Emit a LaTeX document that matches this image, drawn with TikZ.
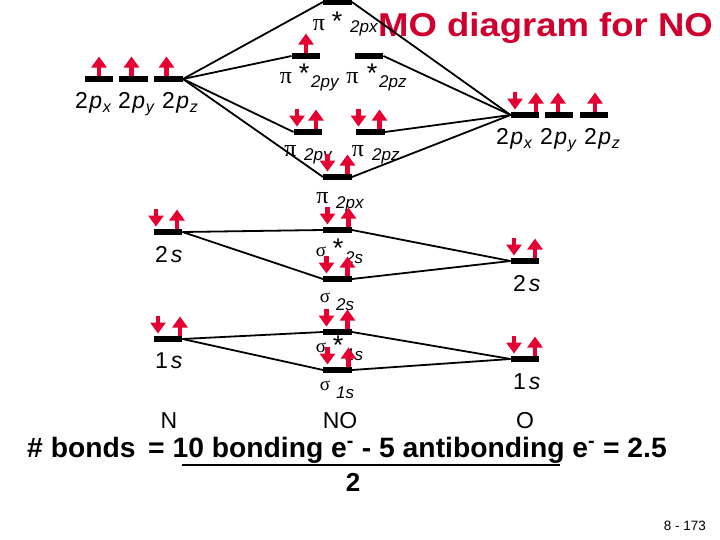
\documentclass[tikz,border=0pt]{standalone}
\usepackage{fontspec}
\setmainfont{Liberation Sans}
\newfontfamily\greekfont{Liberation Serif}
\usetikzlibrary{arrows.meta}
\definecolor{spinred}{RGB}{230,0,50}
\tikzset{every node/.style={inner sep=0pt}}
\tikzset{lvl/.style={rectangle,fill=black,minimum width=28.5pt,minimum height=6.5pt}}
\tikzset{link/.style={line width=1.8pt,black}}
\tikzset{spinup/.style={spinred,line width=4.5pt,-{Triangle[width=15pt,length=11pt]}}}
\tikzset{spindown/.style={spinred,line width=4.5pt,-{Triangle[width=15pt,length=11pt]}}}
\tikzset{orb/.style={anchor=base west,font=\fontsize{23}{23}\selectfont}}
\tikzset{atom/.style={font=\fontsize{23}{23}\selectfont}}
\tikzset{pisym/.style={font=\greekfont\fontsize{24}{24}\selectfont}}
\tikzset{sigsym/.style={font=\greekfont\fontsize{19}{19}\selectfont}}
\tikzset{aster/.style={anchor=north,font=\fontsize{27}{27}\selectfont}}
\tikzset{subs/.style={anchor=base west,font=\itshape\fontsize{17}{17}\selectfont}}
\newcommand{\plab}[1]{2\hspace{1.5pt}{\itshape p\hspace{0.5pt}\textsubscript{#1}}}
\newcommand{\slab}[1]{#1\hspace{3pt}{\itshape s}}

\begin{document}
\begin{tikzpicture}[x=1pt,y=-1pt]
      \useasboundingbox (0,0) rectangle (720,540);
      % title
      \node[anchor=base west,text=spinred!90!black,font=\bfseries\fontsize{33}{33}\selectfont] (title) at (378,37) {\scalebox{1.106}[1]{MO diagram for NO}};
      % levels
      \node[lvl] (Npx) at (99,79) {};
      \node[lvl] (Npy) at (133.5,79) {};
      \node[lvl] (Npz) at (168.5,79) {};
      \node[lvl] (pisx) at (337.5,2) {};
      \node[lvl] (pisy) at (306,56) {};
      \node[lvl] (pisz) at (369,56) {};
      \node[lvl] (piy) at (308,132) {};
      \node[lvl] (piz) at (370.5,132) {};
      \node[lvl] (pix) at (337.5,177) {};
      \node[lvl] (Opx) at (525,115) {};
      \node[lvl] (Opy) at (559,115) {};
      \node[lvl] (Opz) at (594,115) {};
      \node[lvl] (Ns2) at (168,232) {};
      \node[lvl] (sgs2) at (337.5,230) {};
      \node[lvl] (sg2) at (337.5,279) {};
      \node[lvl] (Os2) at (525,261) {};
      \node[lvl] (Ns1) at (168,339) {};
      \node[lvl] (sgs1) at (337.5,332) {};
      \node[lvl] (sg1) at (337.5,370) {};
      \node[lvl] (Os1) at (525,359) {};
      % orbital labels
      \node[orb] (lNpx) at (75,109) {\plab{x}};
      \node[orb] (lNpy) at (118,109) {\plab{y}};
      \node[orb] (lNpz) at (162,109) {\plab{z}};
      \node[orb] (lOpx) at (496,145) {\plab{x}};
      \node[orb] (lOpy) at (540,145) {\plab{y}};
      \node[orb] (lOpz) at (584,145) {\plab{z}};
      \node[orb] (lNs2) at (155,262) {\slab{2}};
      \node[orb] (lOs2) at (513,291) {\slab{2}};
      \node[orb] (lNs1) at (155,368) {\slab{1}};
      \node[orb] (lOs1) at (513,389) {\slab{1}};
      % MO labels
      \node[pisym] (ap) at (319,25) {π};
      \node[aster] (as) at (337,12) {*};
      \node[subs] (ab) at (350,33) {2px};
      \node[pisym] (bp) at (286,78) {π};
      \node[aster] (bs) at (304,64) {*};
      \node[subs] (bb) at (311,88) {2py};
      \node[pisym] (cp) at (352.5,78) {π};
      \node[aster] (cs) at (372,64) {*};
      \node[subs] (cb) at (379,88) {2pz};
      \node[pisym] (dp) at (290.5,151) {π};
      \node[subs] (db) at (304,161) {2py};
      \node[pisym] (ep) at (358,151) {π};
      \node[subs] (eb) at (372,161) {2pz};
      \node[pisym] (fp) at (322.5,198) {π};
      \node[subs] (fb) at (336,208) {2px};
      \node[sigsym] (gp) at (321,252) {σ};
      \node[aster] (gs) at (338,239) {*};
      \node[subs] (gb) at (345,263) {2s};
      \node[sigsym] (hp) at (325,298) {σ};
      \node[subs] (hb) at (336,310) {2s};
      \node[sigsym] (ip) at (321,348) {σ};
      \node[aster] (is) at (338,336) {*};
      \node[subs] (ib) at (345,360) {1s};
      \node[sigsym] (jp) at (325,386) {σ};
      \node[subs] (jb) at (336,398) {1s};
      % connectors
      \draw[link] (Npz.east) -- (pisx.west);
      \draw[link] (Npz.east) -- (pisy.west);
      \draw[link] (Npz.east) -- (piy.west);
      \draw[link] (Npz.east) -- (pix.west);
      \draw[link] (pisx.east) -- (Opx.west);
      \draw[link] (pisz.east) -- (Opx.west);
      \draw[link] (piz.east) -- (Opx.west);
      \draw[link] (pix.east) -- (Opx.west);
      \draw[link] (Ns2.east) -- (sgs2.west);
      \draw[link] (Ns2.east) -- (sg2.west);
      \draw[link] (sgs2.east) -- (Os2.west);
      \draw[link] (sg2.east) -- (Os2.west);
      \draw[link] (Ns1.east) -- (sgs1.west);
      \draw[link] (Ns1.east) -- (sg1.west);
      \draw[link] (sgs1.east) -- (Os1.west);
      \draw[link] (sg1.east) -- (Os1.west);
      % electrons
      \draw[spinup] ([xshift=0pt]Npx.north) -- ++(0,-19);
      \draw[spinup] ([xshift=-2pt]Npy.north) -- ++(0,-19);
      \draw[spinup] ([xshift=-2pt]Npz.north) -- ++(0,-19);
      \draw[spinup] ([xshift=0pt]pisy.north) -- ++(0,-19);
      \draw[spindown] ([xshift=-11pt]piy.north) ++(0,-20) -- ++(0,18);
      \draw[spinup] ([xshift=8pt]piy.north) -- ++(0,-19);
      \draw[spindown] ([xshift=-12pt]piz.north) ++(0,-20) -- ++(0,18);
      \draw[spinup] ([xshift=9pt]piz.north) -- ++(0,-19);
      \draw[spindown] ([xshift=-10pt]pix.north) ++(0,-20) -- ++(0,18);
      \draw[spinup] ([xshift=10pt]pix.north) -- ++(0,-19);
      \draw[spindown] ([xshift=-10pt]Opx.north) ++(0,-20) -- ++(0,18);
      \draw[spinup] ([xshift=11pt]Opx.north) -- ++(0,-19);
      \draw[spinup] ([xshift=-1pt]Opy.north) -- ++(0,-19);
      \draw[spinup] ([xshift=1pt]Opz.north) -- ++(0,-19);
      \draw[spindown] ([xshift=-12pt]Ns2.north) ++(0,-20) -- ++(0,18);
      \draw[spinup] ([xshift=9pt]Ns2.north) -- ++(0,-19);
      \draw[spindown] ([xshift=-10pt]sgs2.north) ++(0,-20) -- ++(0,18);
      \draw[spinup] ([xshift=11pt]sgs2.north) -- ++(0,-19);
      \draw[spindown] ([xshift=-11pt]sg2.north) ++(0,-20) -- ++(0,18);
      \draw[spinup] ([xshift=10pt]sg2.north) -- ++(0,-19);
      \draw[spindown] ([xshift=-11pt]Os2.north) ++(0,-20) -- ++(0,18);
      \draw[spinup] ([xshift=10pt]Os2.north) -- ++(0,-19);
      \draw[spindown] ([xshift=-10pt]Ns1.north) ++(0,-20) -- ++(0,18);
      \draw[spinup] ([xshift=12pt]Ns1.north) -- ++(0,-19);
      \draw[spindown] ([xshift=-11pt]sgs1.north) ++(0,-20) -- ++(0,18);
      \draw[spinup] ([xshift=10pt]sgs1.north) -- ++(0,-19);
      \draw[spindown] ([xshift=-10pt]sg1.north) ++(0,-20) -- ++(0,18);
      \draw[spinup] ([xshift=11pt]sg1.north) -- ++(0,-19);
      \draw[spindown] ([xshift=-11pt]Os1.north) ++(0,-20) -- ++(0,18);
      \draw[spinup] ([xshift=10pt]Os1.north) -- ++(0,-19);
      % bottom text
      \node[atom] (atomN) at (169,421) {N};
      \node[atom] (atomNO) at (340,421) {NO};
      \node[atom] (atomO) at (525,421) {O};
      \node[anchor=base west,font=\bfseries\fontsize{28}{28}\selectfont] (bonds) at (27,457) {\scalebox{1.01}[1]{\# bonds\, = 10 bonding e\textsuperscript{-} - 5 antibonding e\textsuperscript{-} = 2.5}};
      \coordinate (barl) at (182,465);
      \coordinate (barr) at (560,465);
      \draw[line width=1.5pt] (barl) -- (barr);
      \node[anchor=base,font=\bfseries\fontsize{26}{26}\selectfont] (two) at (353,491) {2};
      \node[anchor=base east,font=\fontsize{13.5}{13.5}\selectfont] (page) at (706,530) {8 - 173};
    \end{tikzpicture}
\end{document}
